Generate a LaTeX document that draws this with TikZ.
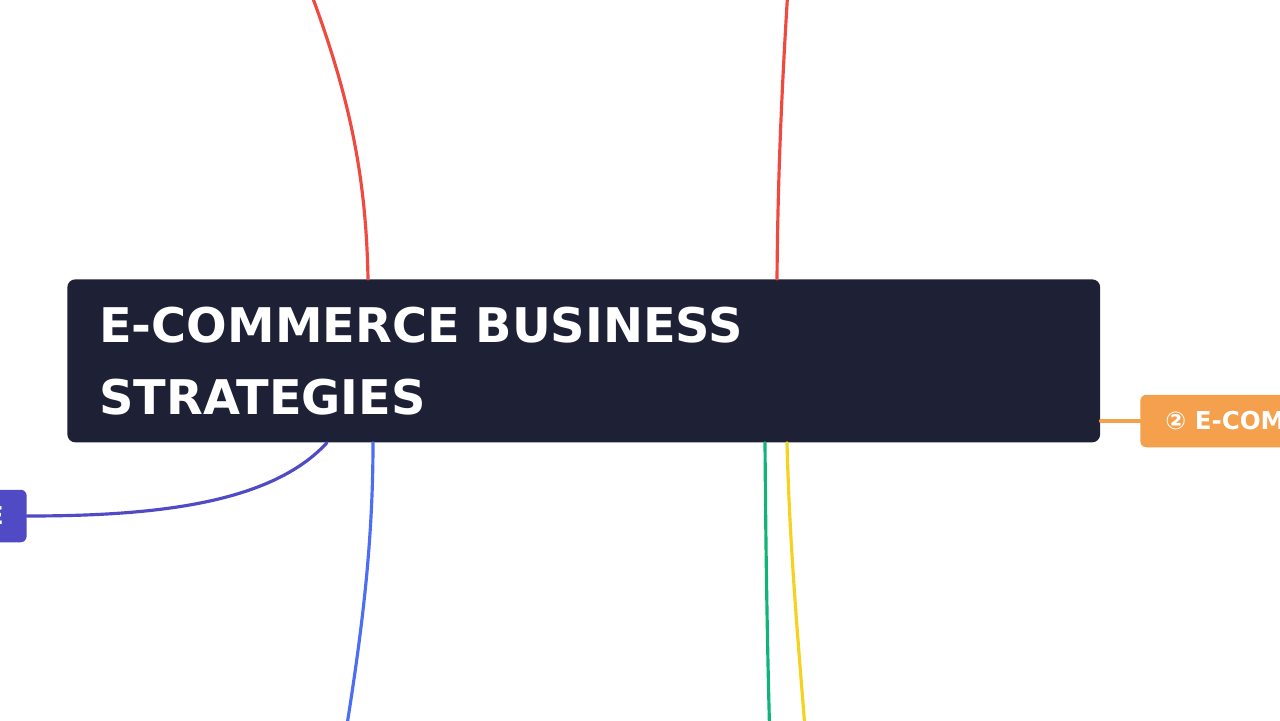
\documentclass[tikz,border=0pt]{standalone}
\usepackage{fontspec}
\setmainfont{DejaVu Sans}
\usetikzlibrary{calc, positioning}
\definecolor{navy}{RGB}{30, 32, 54}
\definecolor{redline}{RGB}{240, 74, 64}
\definecolor{blueline}{RGB}{76, 110, 245}
\definecolor{greenline}{RGB}{16, 180, 120}
\definecolor{yellowline}{RGB}{245, 210, 30}
\definecolor{purpleline}{RGB}{80, 74, 196}
\definecolor{orangeline}{RGB}{244, 160, 76}
\tikzset{
    mainnode/.style = {fill=navy, rectangle, rounded corners=0.16cm, text=white, align=left,
      font=\bfseries\fontsize{27.2}{41}\selectfont, inner xsep=0.64cm, inner ysep=0pt},
    branchnode/.style = {rectangle, rounded corners=0.12cm, text=white,
      font=\bfseries\fontsize{14}{17}\selectfont, inner xsep=0.5cm, minimum height=1.05cm},
    connect/.style = {line width=1.8pt, line cap=round}
}

\begin{document}
\begin{tikzpicture}[x=0.02cm, y=-0.02cm]
    \useasboundingbox (0,0) rectangle (1280,720);
    \clip (0,0) rectangle (1280,720);

    \node[mainnode, name=Main, anchor=north west, minimum width=20.66cm, minimum height=3.26cm,
      text width=19.38cm] at (67,279) {E-COMMERCE BUSINESS\\STRATEGIES};
    \node[branchnode, name=Platform, fill=orangeline, anchor=west] at (1140,421) {② E-COMMERCE PLATFORMS};
    \node[branchnode, name=Store, fill=purpleline, anchor=east, inner xsep=0.46cm] at (27,516) {① ONLINE STORE};

    % branches leaving the picture
    \coordinate (RedA) at (290,-60);
    \coordinate (RedB) at (791,-60);
    \coordinate (BlueEnd) at (338,780);
    \coordinate (GreenEnd) at (771,780);
    \coordinate (YellowEnd) at (809,780);

    \draw[connect, redline] ($(Main.north west)+(301,0)$) .. controls (366,170) and (348,80) .. (RedA);
    \draw[connect, redline] ($(Main.north west)+(710,0)$) .. controls (778,150) and (784,50) .. (RedB);
    \draw[connect, blueline] ($(Main.south west)+(306,0)$) .. controls (373,560) and (358,660) .. (BlueEnd);
    \draw[connect, greenline] ($(Main.south west)+(698,0)$) .. controls (766,580) and (768,680) .. (GreenEnd);
    \draw[connect, yellowline] ($(Main.south west)+(720,0)$) .. controls (790,560) and (800,660) .. (YellowEnd);
    \draw[connect, purpleline] ($(Main.south west)+(260,0)$) .. controls (270,505) and (150,516) .. (Store.east);
    \draw[connect, orangeline] (Platform.west) -- (Platform.west -| Main.east);
\end{tikzpicture}
\end{document}
